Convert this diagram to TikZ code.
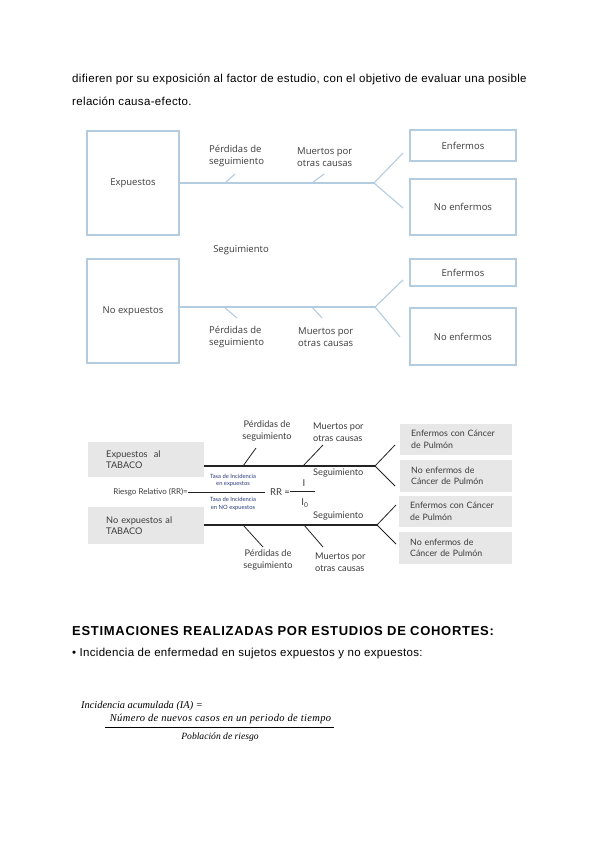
\documentclass[tikz,border=0pt]{standalone}
\usepackage{fontspec}
\setmainfont{Liberation Sans}
\newfontfamily\segoefont{Open Sans}
\newfontfamily\gillfont{Lato}
\newfontfamily\formfont{Liberation Serif}
\usetikzlibrary{calc,positioning}
\definecolor{lineblue}{RGB}{180,204,224}
\definecolor{txtgray}{RGB}{60,60,60}
\definecolor{boxgray}{RGB}{231,231,231}
\definecolor{tasablue}{RGB}{40,60,120}
\definecolor{darkline}{RGB}{35,35,35}

\begin{document}
\begin{tikzpicture}[x=1pt,y=-1pt,
  bluebox/.style={draw=lineblue,line width=1.2pt,inner sep=0pt},
  blueline/.style={draw=lineblue,line width=1.1pt},
  segtxt/.style={font=\segoefont\fontsize{9.5}{12}\selectfont,text=txtgray,inner sep=0pt,align=left},
  graybox/.style={fill=boxgray,inner xsep=11pt,inner ysep=0pt,align=left,font=\gillfont\fontsize{8.8}{11.5}\selectfont,text=txtgray,anchor=west},
  gilltxt/.style={font=\gillfont\fontsize{9.2}{12}\selectfont,text=txtgray,inner sep=0pt},
  thickline/.style={draw=darkline,line width=1.6pt},
  thinline/.style={draw=darkline,line width=0.8pt},
  tasatxt/.style={font=\gillfont\fontsize{5.8}{7.5}\selectfont,text=tasablue,inner sep=0pt,align=center},
  bodytxt/.style={anchor=base west,inner sep=0pt,font=\fontsize{11.5}{13}\selectfont\addfontfeature{LetterSpace=3}}]
\useasboundingbox[fill=white] (0,0) rectangle (600,848);

% texto
\node[bodytxt] (par1) at (72,83) {difieren por su exposición al factor de estudio, con el objetivo de evaluar una posible};
\node[bodytxt] (par2) at (72,106) {relación causa-efecto.};

% primer esquema
\node[bluebox,minimum width=92pt,minimum height=104pt,segtxt] (expA) at (133,183) {Expuestos};
\node[bluebox,minimum width=92pt,minimum height=104pt,segtxt] (expB) at (133,311) {No expuestos};
\node[bluebox,minimum width=106pt,minimum height=31pt,segtxt] (enfA) at (463,145.5) {Enfermos};
\node[bluebox,minimum width=106pt,minimum height=56pt,segtxt] (noenfA) at (463,207) {No enfermos};
\node[bluebox,minimum width=106pt,minimum height=27pt,segtxt] (enfB) at (463,272.5) {Enfermos};
\node[bluebox,minimum width=106pt,minimum height=57pt,segtxt] (noenfB) at (463,336.5) {No enfermos};
\node[segtxt,anchor=west] (perdA) at (209,156) {Pérdidas de\\seguimiento};
\node[segtxt,anchor=west] (muerA) at (297,157.5) {Muertos por\\otras causas};
\node[segtxt] (segA) at (241,250) {Seguimiento};
\node[segtxt,anchor=west] (perdB) at (209,337) {Pérdidas de\\seguimiento};
\node[segtxt,anchor=west] (muerB) at (298,337) {Muertos por\\otras causas};

\coordinate (forkA) at (374,183);
\coordinate (forkB) at (375,307);
\draw[blueline] (expA.east) -- (forkA);
\draw[blueline] (expB.east |- forkB) -- (forkB);
\draw[blueline] (forkA) -- ++(29,-30);
\draw[blueline] (forkA) -- ++(29,25);
\draw[blueline] (forkB) -- ++(28,-27);
\draw[blueline] (forkB) -- ++(25,30);
\coordinate (tA1) at (225,183);
\coordinate (tA2) at (312,183);
\coordinate (tB1) at (224,307);
\coordinate (tB2) at (312,307);
\draw[blueline] (tA1) -- ++(10,-9);
\draw[blueline] (tA2) -- ++(12,-9);
\draw[blueline] (tB1) -- ++(13,11);
\draw[blueline] (tB2) -- ++(10,11);

% segundo esquema
\node[graybox,minimum width=116pt,minimum height=35pt,text width=80pt,inner xsep=18pt,font=\gillfont\fontsize{9.2}{11.5}\selectfont] (expT) at (88,459.5) {Expuestos~ al\\TABACO};
\node[graybox,minimum width=116pt,minimum height=37pt,text width=80pt,inner xsep=18pt,font=\gillfont\fontsize{9.2}{11.5}\selectfont] (noexpT) at (88,525.5) {No expuestos al\\TABACO};
\node[graybox,minimum width=112pt,minimum height=31pt,text width=90pt] (cancer1) at (400,439.5) {Enfermos con Cáncer\\de Pulmón};
\node[graybox,minimum width=112pt,minimum height=32pt,text width=90pt] (sano1) at (400,476) {No enfermos de\\Cáncer de Pulmón};
\node[graybox,minimum width=113pt,minimum height=31pt,text width=91pt] (cancer2) at (399,511.5) {Enfermos con Cáncer\\de Pulmón};
\node[graybox,minimum width=113pt,minimum height=32pt,text width=91pt] (sano2) at (399,548) {No enfermos de\\Cáncer de Pulmón};

\node[gilltxt,align=center] (perdT1) at (267,431) {Pérdidas de\\seguimiento};
\node[gilltxt,align=left,anchor=west] (muerT1) at (313,432) {Muertos por\\otras causas};
\node[gilltxt,align=center] (perdT2) at (268,560) {Pérdidas de\\seguimiento};
\node[gilltxt,align=left,anchor=west] (muerT2) at (315,562) {Muertos por\\otras causas};
\node[gilltxt,anchor=west] (segT1) at (313,473) {Seguimiento};
\node[gilltxt,anchor=west] (segT2) at (313,516) {Seguimiento};

\coordinate (startT1) at (204,466);
\coordinate (startT2) at (204,525);
\coordinate (forkT1) at (375,466);
\coordinate (forkT2) at (377,525);
\draw[thickline] (startT1) -- (forkT1);
\draw[thickline] (startT2) -- (forkT2);
\draw[thinline] (forkT1) -- ++(20,-21);
\draw[thinline] (forkT1) -- ++(20,20);
\draw[thinline] (forkT2) -- ++(19,-20);
\draw[thinline] (forkT2) -- ++(19,19);
\coordinate (tT1) at (243,466);
\coordinate (tT2) at (303,466);
\coordinate (tT3) at (243,525);
\coordinate (tT4) at (304,525);
\draw[thinline] (tT1) -- ++(13,-18);
\draw[thinline] (tT2) -- ++(20,-21);
\draw[thinline] (tT3) -- ++(20,22);
\draw[thinline] (tT4) -- ++(19,22);

% riesgo relativo
\node[gilltxt,anchor=east,font=\gillfont\fontsize{8}{9}\selectfont] (rr) at (188,492) {Riesgo Relativo (RR)=};
\coordinate (rrend) at (265,492);
\draw[darkline,line width=0.7pt] (rr.east) -- (rrend);
\node[tasatxt] (tasa1) at (233,480.5) {Tasa de Incidencia\\en expuestos};
\node[tasatxt] (tasa2) at (233,504) {Tasa de Incidencia\\en NO expuestos};
\node[gilltxt,font=\gillfont\fontsize{9.5}{10}\selectfont] (rreq) at (280,492) {RR =};
\coordinate (fracA) at (290,491);
\coordinate (fracB) at (315,491);
\draw[darkline,line width=0.7pt] (fracA) -- (fracB);
\node[gilltxt,font=\gillfont\fontsize{9.5}{10}\selectfont] (inum) at (304,483) {I};
\node[gilltxt,font=\gillfont\fontsize{9.5}{10}\selectfont] (iden) at (305,503) {I\textsubscript{0}};

% estimaciones
\node[anchor=base west,inner sep=0pt,font=\bfseries\fontsize{13}{15}\selectfont\addfontfeature{LetterSpace=5.4}] (head) at (72,635) {ESTIMACIONES REALIZADAS POR ESTUDIOS DE COHORTES:};
\node[bodytxt,font=\fontsize{11.5}{13}\selectfont\addfontfeature{LetterSpace=2.6}] (bullet) at (72,656) {• Incidencia de enfermedad en sujetos expuestos y no expuestos:};

\node[anchor=base west,inner sep=0pt,font=\formfont\itshape\fontsize{10.4}{12}\selectfont] (iaA) at (81,708) {Incidencia acumulada (IA) =};
\node[anchor=base,inner sep=0pt,font=\formfont\itshape\fontsize{10.5}{12}\selectfont\addfontfeature{LetterSpace=3.3}] (iaNum) at (220.5,721) {Número de nuevos casos en un periodo de tiempo};
\node[anchor=base,inner sep=0pt,font=\formfont\itshape\fontsize{9.6}{12}\selectfont] (iaDen) at (220,739) {Población de riesgo};
\coordinate (fracL) at (105,727);
\coordinate (fracR) at (334,727);
\draw[black,line width=0.7pt] (fracL) -- (fracR);
\end{tikzpicture}
\end{document}
